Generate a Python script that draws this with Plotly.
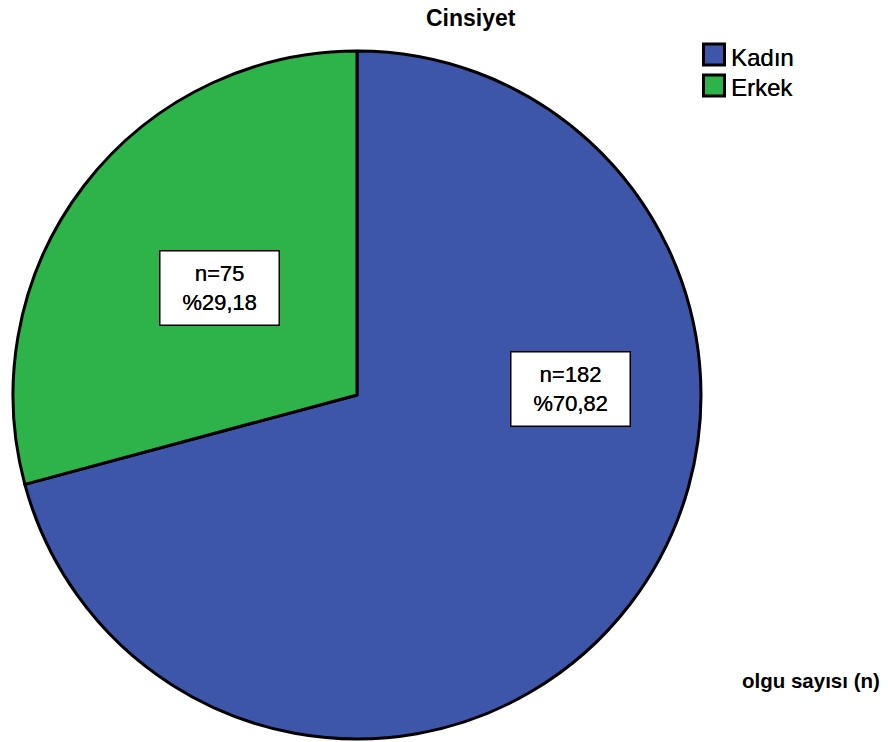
import plotly.graph_objects as go

# Gender distribution of cases
categories = ["Kadın", "Erkek"]
counts = [182, 75]
colors = ["#3D56AA", "#2DB34A"]

W, H = 888, 742
total = sum(counts)
pcts = [c / total * 100 for c in counts]


def px(x):
    return x / W


def py(y):
    return 1 - y / H


# pie occupies a square region on the left
cx, cy, r = 357, 395, 344

fig = go.Figure(
    go.Pie(
        labels=categories,
        values=counts,
        marker=dict(colors=colors, line=dict(color="black", width=3)),
        sort=False,
        direction="clockwise",
        rotation=0,
        textinfo="none",
        hoverinfo="label+value+percent",
        domain=dict(x=[px(cx - r), px(cx + r)], y=[py(cy + r), py(cy - r)]),
    )
)

FONT = "Liberation Sans, Arial, sans-serif"
# slight shadow gives the text a heavier stroke
HEAVY = "0.2px 0 0 black"

# value boxes inside the slices
label_pos = {"Kadın": (570, 389), "Erkek": (219, 288)}
annotations = []
for cat, n, p in zip(categories, counts, pcts):
    x, y = label_pos[cat]
    txt = f"n={n}<br>%{p:.2f}".replace(".", ",")
    annotations.append(
        dict(
            x=px(x), y=py(y), xref="paper", yref="paper",
            text=txt, showarrow=False, align="center",
            xanchor="center", yanchor="middle",
            font=dict(family=FONT, size=22, color="black", shadow=HEAVY),
            bgcolor="white", bordercolor="black", borderwidth=1.5,
            borderpad=1, width=116, height=71,
        )
    )

# legend drawn as squares with labels
legend_top = 44
step = 31
shapes = []
for i, (cat, col) in enumerate(zip(categories, colors)):
    y0 = legend_top + i * step
    shapes.append(
        dict(
            type="rect", xref="paper", yref="paper",
            x0=px(703.5), x1=px(724.5), y0=py(y0 + 21), y1=py(y0),
            fillcolor=col, line=dict(color="black", width=3),
        )
    )
    annotations.append(
        dict(
            x=px(729), y=py(y0 + 13), xref="paper", yref="paper",
            text=cat, showarrow=False, xanchor="left", yanchor="middle",
            font=dict(family=FONT, size=24, color="black", shadow=HEAVY),
        )
    )

annotations.append(
    dict(
        x=px(471), y=py(18), xref="paper", yref="paper",
        text="<b>Cinsiyet</b>", showarrow=False,
        xanchor="center", yanchor="middle",
        font=dict(family=FONT, size=23, color="black"),
    )
)
annotations.append(
    dict(
        x=px(740), y=py(680), xref="paper", yref="paper",
        text="<b>olgu sayısı (n)</b>", showarrow=False,
        xanchor="left", yanchor="middle",
        font=dict(family=FONT, size=20.5, color="black"),
    )
)

fig.update_layout(
    width=W, height=H,
    margin=dict(l=0, r=0, t=0, b=0),
    paper_bgcolor="white", plot_bgcolor="white",
    showlegend=False,
    annotations=annotations,
    shapes=shapes,
)

fig.write_html("out.html")
